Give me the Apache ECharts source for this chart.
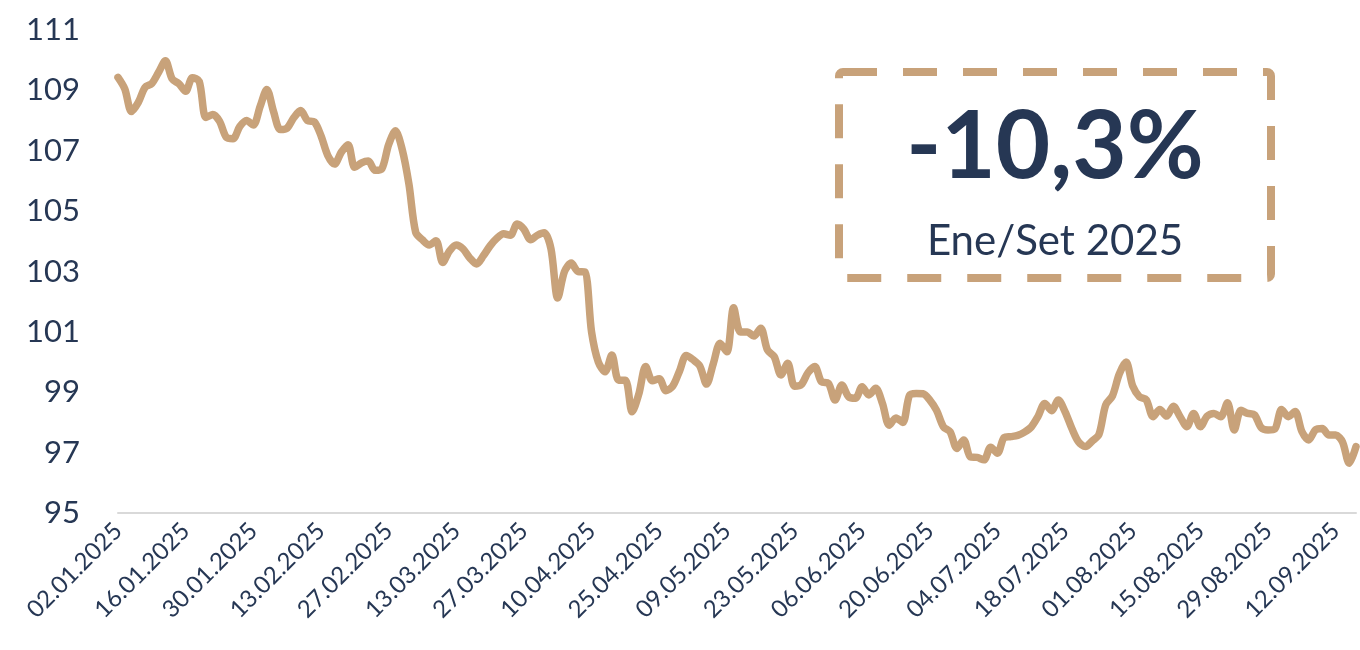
<!DOCTYPE html>
<html>
<head>
<meta charset="utf-8">
<title>Index</title>
<script src="https://cdn.jsdelivr.net/npm/echarts@6/dist/echarts.min.js"></script>
<style>
  html, body { margin: 0; padding: 0; background: #fff; }
  #chart { width: 1360px; height: 650px; }
</style>
</head>
<body>
<div id="chart"></div>
<script>
// trading days from 02.01.2025, Good Friday missing
const startDate = '2025-01-02';
const closedDays = ['2025-04-18'];
const pointCount = 184;
const labelEvery = 10;

const values = [
  109.43, 109.05, 108.3, 108.6, 109.1, 109.23, 109.6, 109.98, 109.38, 109.22,
  108.97, 109.42, 109.3, 108.1, 108.2, 107.98, 107.45, 107.4, 107.8, 108.0,
  107.85, 108.46, 109.03, 108.29, 107.7, 107.75, 108.1, 108.33, 108.0, 107.96,
  107.5, 106.85, 106.56, 106.95, 107.2, 106.45, 106.6, 106.66, 106.35, 106.4,
  107.2, 107.66, 107.05, 105.9, 104.3, 104.05, 103.88, 104.02, 103.3, 103.68,
  103.88, 103.75, 103.45, 103.25, 103.52, 103.85, 104.1, 104.25, 104.2, 104.57,
  104.4, 104.05, 104.2, 104.28, 103.75, 102.12, 103.0, 103.28, 103.0, 102.99,
  101.0, 100.0, 99.68, 100.23, 99.4, 99.4, 98.35, 98.95, 99.85, 99.38,
  99.45, 99.05, 99.2, 99.7, 100.22, 100.08, 99.87, 99.27, 99.95, 100.62,
  100.34, 101.8, 101.0, 101.0, 100.86, 101.12, 100.4, 100.18, 99.57, 99.96,
  99.2, 99.25, 99.65, 99.85, 99.34, 99.3, 98.74, 99.24, 98.85, 98.8,
  99.18, 98.91, 99.13, 98.63, 97.91, 98.15, 98.0, 98.9, 98.96, 98.95,
  98.74, 98.4, 97.86, 97.69, 97.14, 97.42, 96.86, 96.84, 96.76, 97.18,
  96.98, 97.5, 97.53, 97.57, 97.68, 97.85, 98.2, 98.63, 98.39, 98.74,
  98.35, 97.8, 97.35, 97.2, 97.38, 97.6, 98.58, 98.88, 99.6, 100.0,
  99.2, 98.85, 98.75, 98.19, 98.43, 98.21, 98.54, 98.19, 97.86, 98.3,
  97.86, 98.21, 98.3, 98.19, 98.65, 97.75, 98.4, 98.3, 98.25, 97.82,
  97.75, 97.78, 98.43, 98.19, 98.36, 97.7, 97.42, 97.75, 97.8, 97.58,
  97.58, 97.36, 96.65, 97.2
];

const yTicks = [95, 97, 99, 101, 103, 105, 107, 109, 111];

const boxTitle = '-10,3%';
const boxSubtitle = 'Ene/Set 2025';

const pad = (n) => (n < 10 ? '0' + n : '' + n);

const buildDates = () => {
  const out = [];
  const d = new Date(startDate + 'T12:00:00Z');
  while (out.length < pointCount) {
    const day = d.getUTCDay();
    const iso = d.getUTCFullYear() + '-' + pad(d.getUTCMonth() + 1) + '-' + pad(d.getUTCDate());
    if (day !== 0 && day !== 6 && closedDays.indexOf(iso) === -1) {
      out.push(pad(d.getUTCDate()) + '.' + pad(d.getUTCMonth() + 1) + '.' + d.getUTCFullYear());
    }
    d.setUTCDate(d.getUTCDate() + 1);
  }
  return out;
};

const dates = buildDates();

const navy = '#263754';
const tan = '#C8A27A';

const chart = echarts.init(document.getElementById('chart'));

const option = {
  animation: false,
  textStyle: { fontFamily: 'Lato' },
  grid: {
    left: 118,
    right: 4,
    top: 30,
    bottom: 137
  },
  xAxis: {
    type: 'category',
    data: dates,
    boundaryGap: false,
    axisLine: { lineStyle: { color: '#D9D9D9', width: 2 } },
    axisTick: { show: false },
    axisLabel: {
      interval: (idx) => idx % labelEvery === 0,
      hideOverlap: false,
      rotate: 45,
      margin: 14,
      color: navy,
      fontFamily: 'Lato',
      fontSize: 24
    }
  },
  yAxis: {
    type: 'value',
    min: yTicks[0],
    max: yTicks[yTicks.length - 1],
    interval: 2,
    axisLine: { show: false },
    axisTick: { show: false },
    splitLine: { show: false },
    axisLabel: {
      margin: 38,
      color: navy,
      fontFamily: 'Lato',
      fontSize: 31
    }
  },
  series: [
    {
      type: 'line',
      data: values,
      smooth: 0.3,
      showSymbol: false,
      lineStyle: { color: tan, width: 7.5, cap: 'round', join: 'round' }
    }
  ],
  graphic: [
    {
      type: 'rect',
      shape: { x: 839, y: 72, width: 432, height: 206, r: 4 },
      style: { fill: 'none', stroke: tan, lineWidth: 8, lineDash: [34, 26] }
    },
    {
      type: 'text',
      x: 1055,
      y: 148,
      style: {
        text: boxTitle,
        fill: navy,
        font: 'bold 94px Lato',
        align: 'center',
        verticalAlign: 'middle'
      }
    },
    {
      type: 'text',
      x: 1055,
      y: 241,
      style: {
        text: boxSubtitle,
        fill: navy,
        font: '42px Lato',
        align: 'center',
        verticalAlign: 'middle'
      }
    }
  ]
};

chart.setOption(option);
</script>
</body>
</html>
